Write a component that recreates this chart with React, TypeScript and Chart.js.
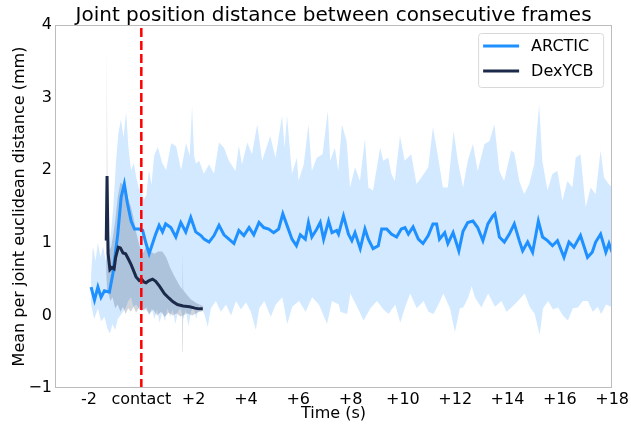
import React, { useEffect, useRef } from "react";
import { Chart, registerables } from "chart.js";

Chart.register(...registerables);

const chartTitle = "Joint position distance between consecutive frames";
const xAxisTitle = "Time (s)";
const yAxisTitle = "Mean per joint euclidean distance (mm)";

const xTickValues = [-2, 0, 2, 4, 6, 8, 10, 12, 14, 16, 18];
const xTickLabels = ["-2", "contact", "+2", "+4", "+6", "+8", "+10", "+12", "+14", "+16", "+18"];
const xMin = -3.3;
const xMax = 18;
const yMin = -1;
const yMax = 4;
const contactTime = 0;

const seriesNames = ["ARCTIC", "DexYCB"];

// ARCTIC mean
const arcticTime = [
  -1.92, -1.79, -1.66, -1.54, -1.41, -1.22, -1.09, -0.9, -0.77, -0.65,
  -0.53, -0.39, -0.26, -0.08, 0.05, 0.18, 0.3, 0.43, 0.55, 0.68,
  0.81, 0.93, 1.13, 1.32, 1.51, 1.7, 1.89, 2.08, 2.28, 2.4,
  2.59, 2.78, 2.97, 3.16, 3.35, 3.54, 3.73, 3.92, 4.12, 4.3,
  4.5, 4.68, 4.87, 5.06, 5.25, 5.41, 5.57, 5.76, 5.93, 6.08,
  6.27, 6.39, 6.52, 6.71, 6.84, 6.97, 7.16, 7.29, 7.47, 7.54,
  7.73, 7.92, 8.05, 8.17, 8.37, 8.55, 8.68, 8.86, 9.06, 9.19,
  9.38, 9.56, 9.76, 9.94, 10.08, 10.21, 10.39, 10.59, 10.77, 10.97,
  11.15, 11.29, 11.4, 11.6, 11.72, 11.92, 12.14, 12.3, 12.48, 12.68,
  12.86, 13.06, 13.25, 13.44, 13.52, 13.69, 13.88, 14.07, 14.26, 14.45,
  14.58, 14.77, 14.96, 15.18, 15.34, 15.53, 15.72, 15.91, 16.16, 16.35,
  16.54, 16.79, 17.06, 17.24, 17.37, 17.56, 17.76, 17.88, 18.0,
];
const arcticMean = [
  0.39, 0.21, 0.39, 0.25, 0.34, 0.32, 0.57, 1.12, 1.63, 1.81,
  1.54, 1.3, 1.19, 1.19, 1.17, 0.99, 0.85, 0.99, 1.12, 1.24,
  1.15, 1.26, 1.21, 1.08, 1.28, 1.15, 1.35, 1.15, 1.1, 1.05,
  1.01, 1.1, 1.24, 1.11, 1.05, 0.99, 1.17, 1.1, 1.21, 1.11,
  1.28, 1.21, 1.19, 1.14, 1.19, 1.4, 1.24, 1.05, 0.96, 1.11,
  1.05, 1.28, 1.08, 1.19, 1.28, 1.05, 1.3, 1.14, 1.17, 1.12,
  1.37, 1.12, 1.03, 1.14, 0.92, 1.19, 1.05, 0.92, 0.96, 1.19,
  1.19, 1.12, 1.08, 1.19, 1.21, 1.12, 1.22, 1.05, 0.99, 1.1,
  1.26, 1.26, 1.05, 1.14, 0.99, 1.14, 0.89, 1.16, 1.28, 1.3,
  1.21, 1.03, 1.26, 1.37, 1.4, 1.08, 1.01, 1.12, 1.26, 1.03,
  0.89, 1.01, 0.87, 1.3, 1.08, 1.03, 0.96, 1.03, 0.8, 1.01,
  0.94, 1.1, 0.8, 0.87, 1.01, 1.12, 0.87, 0.99, 0.87,
];

// ARCTIC band upper edge
const arcticUpperTime = [
  -1.92, -1.85, -1.75, -1.66, -1.56, -1.46, -1.36, -1.27, -1.17, -1.07,
  -0.97, -0.88, -0.78, -0.68, -0.58, -0.49, -0.39, -0.29, -0.19, -0.1,
  0.0, 0.1, 0.19, 0.29, 0.39, 0.49, 0.63, 0.8, 0.95, 1.14,
  1.33, 1.52, 1.71, 1.85, 1.94, 2.02, 2.09, 2.21, 2.39, 2.59,
  2.78, 2.97, 3.16, 3.35, 3.6, 3.73, 3.85, 4.05, 4.23, 4.43,
  4.62, 4.93, 5.13, 5.38, 5.48, 5.57, 5.76, 5.95, 6.01, 6.21,
  6.39, 6.52, 6.71, 6.93, 7.13, 7.22, 7.4, 7.53, 7.67, 7.85,
  7.98, 8.17, 8.36, 8.55, 8.68, 8.86, 9.13, 9.25, 9.44, 9.56,
  9.69, 9.89, 10.07, 10.32, 10.52, 10.71, 10.97, 11.15, 11.35, 11.53,
  11.72, 11.94, 12.1, 12.3, 12.48, 12.68, 12.86, 13.12, 13.31, 13.5,
  13.69, 13.87, 14.14, 14.26, 14.45, 14.64, 14.83, 15.02, 15.21, 15.33,
  15.53, 15.72, 15.91, 16.1, 16.29, 16.48, 16.61, 16.79, 16.99, 17.18,
  17.37, 17.56, 17.69, 17.87, 18.0,
];
const arcticUpper = [
  0.55, 0.95, 0.75, 1.0, 0.8, 0.95, 0.75, 0.9, 1.1, 1.5,
  2.1, 2.5, 2.7, 2.45, 2.8, 2.3, 2.0, 2.1, 1.9, 1.75,
  1.7, 1.6, 1.65, 2.0, 1.8, 2.2, 2.32, 2.1, 2.0, 2.37,
  2.33, 2.0, 2.37, 2.2, 2.87, 2.2, 2.09, 2.13, 1.95, 2.08,
  1.95, 2.38, 2.31, 2.13, 1.99, 2.34, 2.08, 2.38, 2.22, 2.63,
  2.13, 2.47, 2.17, 2.75, 2.31, 2.75, 1.95, 2.17, 1.85, 2.08,
  2.63, 1.99, 2.17, 2.22, 2.82, 2.13, 2.31, 1.99, 2.63, 2.4,
  1.76, 2.04, 1.85, 2.43, 1.76, 1.72, 2.31, 2.13, 2.17, 1.95,
  1.85, 2.47, 2.13, 2.22, 1.81, 1.9, 2.04, 2.59, 2.17, 1.76,
  1.76, 2.54, 2.13, 1.76, 2.13, 2.36, 1.99, 2.36, 2.4, 2.63,
  1.99, 1.85, 2.27, 2.24, 1.85, 1.67, 1.81, 2.08, 2.91, 2.13,
  1.72, 1.95, 1.99, 1.58, 1.85, 1.76, 2.17, 2.22, 1.49, 1.76,
  1.67, 2.27, 1.9, 1.81, 1.76,
];

// ARCTIC band lower edge
const arcticLowerTime = [
  -1.92, -1.8, -1.66, -1.54, -1.41, -1.3, -1.2, -1.1, -1.0, -0.9,
  -0.8, -0.7, -0.6, -0.5, -0.4, -0.3, -0.2, -0.1, 0.0, 0.1,
  0.2, 0.3, 0.4, 0.5, 0.6, 0.7, 0.8, 0.9, 1.0, 1.1,
  1.2, 1.3, 1.4, 1.5, 1.6, 1.7, 1.8, 1.9, 2.0, 2.1,
  2.22, 2.41, 2.54, 2.66, 2.85, 3.04, 3.24, 3.43, 3.62, 3.81,
  4.0, 4.19, 4.38, 4.51, 4.7, 4.95, 5.14, 5.39, 5.58, 5.77,
  6.03, 6.28, 6.53, 6.79, 7.1, 7.29, 7.55, 7.61, 7.87, 7.99,
  8.25, 8.5, 8.76, 9.01, 9.26, 9.45, 9.71, 9.9, 10.09, 10.28,
  10.53, 10.79, 10.98, 11.17, 11.36, 11.55, 11.8, 11.99, 12.18, 12.31,
  12.5, 12.63, 12.75, 13.0, 13.26, 13.52, 13.77, 13.96, 14.15, 14.4,
  14.66, 14.85, 15.04, 15.23, 15.36, 15.55, 15.74, 15.93, 16.12, 16.31,
  16.5, 16.69, 16.88, 17.07, 17.26, 17.45, 17.58, 17.77, 18.0,
];
const arcticLower = [
  0.15, -0.05, 0.1, -0.08, -0.02, -0.18, -0.25, -0.12, -0.2, -0.05,
  0.0, 0.05, 0.1, 0.2, 0.25, 0.12, 0.15, 0.1, 0.15, 0.05,
  0.12, 0.0, 0.1, -0.05, 0.08, -0.1, 0.05, -0.08, 0.1, -0.02,
  0.08, -0.12, 0.05, 0.1, -0.05, 0.08, -0.15, 0.05, 0.12, -0.05,
  0.15, 0.02, -0.16, 0.1, 0.2, 0.05, 0.15, 0.0, 0.2, 0.08,
  0.18, 0.05, -0.2, 0.1, 0.2, -0.02, 0.15, 0.25, -0.12, 0.12,
  0.2, 0.05, 0.25, 0.15, -0.12, 0.2, 0.15, 0.05, 0.02, 0.3,
  0.12, -0.07, 0.1, 0.2, 0.08, 0.02, 0.15, -0.1, 0.12, 0.3,
  0.1, 0.2, 0.05, 0.02, 0.15, 0.3, 0.1, -0.23, 0.1, 0.11,
  0.25, 0.4, 0.25, 0.11, 0.3, 0.12, 0.2, 0.05, 0.11, 0.2,
  0.3, 0.12, 0.02, -0.27, 0.1, 0.2, 0.08, 0.11, 0.0, -0.07,
  0.1, 0.11, 0.2, 0.2, 0.05, 0.12, 0.02, 0.15, 0.11,
];

// DexYCB mean
const dexTime = [
  -1.34, -1.31, -1.27, -1.2, -1.12, -1.04, -0.98, -0.88, -0.8, -0.7,
  -0.6, -0.5, -0.39, -0.3, -0.2, -0.08, 0.01, 0.1, 0.18, 0.3,
  0.43, 0.55, 0.7, 0.88, 1.05, 1.2, 1.38, 1.6, 1.85, 2.05,
  2.2, 2.35,
];
const dexMean = [
  1.03, 1.92, 0.85, 0.63, 0.66, 0.64, 0.8, 0.94, 0.93, 0.86,
  0.85, 0.78, 0.7, 0.62, 0.53, 0.48, 0.5, 0.46, 0.45, 0.48,
  0.5, 0.47, 0.4, 0.3, 0.24, 0.19, 0.15, 0.13, 0.12, 0.1,
  0.09, 0.09,
];

// DexYCB band
const dexUpperTime = [
  -1.34, -1.33, -1.315, -1.30, -1.29, -1.22, -1.15, -1.08, -1.0, -0.9,
  -0.8, -0.7, -0.6, -0.5, -0.4, -0.3, -0.2, -0.08, 0.05, 0.2,
  0.35, 0.5, 0.65, 0.8, 0.95, 1.1, 1.25, 1.45, 1.56, 1.58,
  1.6, 1.75, 1.9, 2.1, 2.35,
];
const dexUpper = [
  1.05, 2.2, 3.65, 2.2, 1.0, 0.9, 0.95, 1.1, 1.3, 1.63,
  1.83, 1.8, 1.76, 1.6, 1.5, 1.35, 1.15, 0.97, 0.85, 0.95,
  0.88, 0.85, 0.88, 0.88, 0.8, 0.66, 0.55, 0.42, 0.36, 0.9,
  0.35, 0.28, 0.22, 0.17, 0.13,
];
const dexLowerTime = [
  -1.34, -1.31, -1.26, -1.18, -1.1, -1.0, -0.9, -0.8, -0.7, -0.6,
  -0.5, -0.4, -0.3, -0.2, -0.1, 0.0, 0.15, 0.3, 0.45, 0.6,
  0.75, 0.9, 1.05, 1.2, 1.35, 1.5, 1.56, 1.58, 1.6, 1.75,
  1.95, 2.15, 2.35,
];
const dexLower = [
  0.6, 0.35, 0.3, 0.2, 0.25, 0.1, 0.15, 0.05, 0.12, 0.02,
  0.1, 0.05, 0.12, 0.04, 0.1, 0.06, 0.1, 0.02, 0.08, 0.0,
  0.05, -0.02, 0.04, 0.0, 0.03, -0.02, 0.0, -0.5, 0.0, 0.03,
  0.0, 0.04, 0.06,
];

const arcticColor = "#1e90ff";
const arcticFill = "rgba(30,144,255,0.2)";
const dexColor = "#1b2a4a";
const dexFill = "rgba(27,42,74,0.2)";
const contactColor = "#ff0000";
const fontFamily = "'DejaVu Sans', sans-serif";

function pts(t: number[], v: number[]) {
  return t.map((x, i) => ({ x, y: v[i] }));
}
function bandPts(tu: number[], u: number[], tl: number[], l: number[]) {
  return [...pts(tu, u), ...pts(tl, l).reverse()];
}

const framePlugin = {
  id: "frame",
  afterDatasetsDraw(chart: any) {
    const { ctx, chartArea } = chart;
    ctx.save();
    ctx.strokeStyle = "#bcbcbc";
    ctx.lineWidth = 1;
    ctx.strokeRect(
      Math.round(chartArea.left) + 0.5,
      Math.round(chartArea.top) + 0.5,
      Math.round(chartArea.right - chartArea.left) - 1,
      Math.round(chartArea.bottom - chartArea.top) - 1
    );
    ctx.restore();
  },
};

const titlePlugin = {
  id: "axesTitle",
  afterDraw(chart: any) {
    const { ctx, chartArea } = chart;
    ctx.save();
    ctx.font = `20px ${fontFamily}`;
    ctx.fillStyle = "#000";
    ctx.textAlign = "center";
    ctx.textBaseline = "alphabetic";
    ctx.fillText(chartTitle, (chartArea.left + chartArea.right) / 2, 21);
    ctx.restore();
  },
};

const legendPlugin = {
  id: "boxLegend",
  afterDraw(chart: any) {
    const { ctx, chartArea } = chart;
    const items = seriesNames
      .map((n) => chart.data.datasets.find((d: any) => d.inLegend && d.label === n))
      .filter(Boolean);
    const boxW = 125;
    const rowH = 25;
    const boxH = 13 + rowH * (items.length - 1) + 16;
    const x0 = chartArea.right - 9 - boxW;
    const y0 = chartArea.top + 8;
    ctx.save();
    ctx.beginPath();
    ctx.roundRect(x0 + 0.5, y0 + 0.5, boxW, boxH, 3);
    ctx.fillStyle = "rgba(255,255,255,0.8)";
    ctx.fill();
    ctx.strokeStyle = "#d9d9d9";
    ctx.lineWidth = 1;
    ctx.stroke();
    ctx.font = `16px ${fontFamily}`;
    ctx.textBaseline = "middle";
    ctx.textAlign = "left";
    items.forEach((d: any, i: number) => {
      const cy = y0 + 13 + i * rowH;
      ctx.beginPath();
      ctx.moveTo(x0 + 5, cy);
      ctx.lineTo(x0 + 41, cy);
      ctx.strokeStyle = d.borderColor;
      ctx.lineWidth = 3;
      ctx.stroke();
      ctx.fillStyle = "#000";
      ctx.fillText(d.label, x0 + 53, cy + 1);
    });
    ctx.restore();
  },
};

export default function App() {
  const ref = useRef<HTMLCanvasElement>(null);
  useEffect(() => {
    if (!ref.current) return;
    const chart = new Chart(ref.current, {
      type: "line",
      data: {
        datasets: [
          {
            label: "contact",
            data: [
              { x: contactTime, y: yMin },
              { x: contactTime, y: yMax },
            ],
            borderColor: contactColor,
            borderWidth: 2.5,
            borderDash: [9, 4],
            pointRadius: 0,
            fill: false,
            order: 0,
          } as any,
          {
            label: seriesNames[1],
            data: pts(dexTime, dexMean),
            borderColor: dexColor,
            borderWidth: 3,
            pointRadius: 0,
            fill: false,
            inLegend: true,
            order: 1,
          } as any,
          {
            label: seriesNames[0],
            data: pts(arcticTime, arcticMean),
            borderColor: arcticColor,
            borderWidth: 3,
            pointRadius: 0,
            fill: false,
            inLegend: true,
            order: 2,
          } as any,
          {
            label: seriesNames[1] + " band",
            data: bandPts(dexUpperTime, dexUpper, dexLowerTime, dexLower),
            borderWidth: 0,
            borderColor: "rgba(0,0,0,0)",
            backgroundColor: dexFill,
            pointRadius: 0,
            fill: "shape",
            order: 3,
          } as any,
          {
            label: seriesNames[0] + " band",
            data: bandPts(arcticUpperTime, arcticUpper, arcticLowerTime, arcticLower),
            borderWidth: 0,
            borderColor: "rgba(0,0,0,0)",
            backgroundColor: arcticFill,
            pointRadius: 0,
            fill: "shape",
            order: 4,
          } as any,
        ],
      },
      options: {
        animation: false,
        responsive: true,
        maintainAspectRatio: false,
        layout: { padding: { left: 0, right: 16, top: 25, bottom: 0 } },
        plugins: {
          legend: { display: false },
          tooltip: { enabled: false },
          title: { display: false },
        },
        scales: {
          x: {
            type: "linear",
            min: xMin,
            max: xMax,
            grid: { display: false, drawTicks: false },
            border: { display: false },
            afterBuildTicks: (scale: any) => {
              scale.ticks = xTickValues.map((value) => ({ value }));
            },
            afterFit: (scale: any) => {
              scale.height = 37;
            },
            ticks: {
              autoSkip: false,
              maxRotation: 0,
              padding: 2,
              color: "#000",
              font: { family: fontFamily, size: 16 },
              callback: (v: any) => {
                const i = xTickValues.indexOf(Number(v));
                return i >= 0 ? xTickLabels[i] : "";
              },
            },
            title: {
              display: true,
              text: xAxisTitle,
              color: "#000",
              font: { family: fontFamily, size: 16 },
              padding: { top: 0, bottom: 2 },
            },
          },
          y: {
            type: "linear",
            min: yMin,
            max: yMax,
            grid: { display: false, drawTicks: false },
            border: { display: false },
            afterFit: (scale: any) => {
              scale.width = 55;
            },
            ticks: {
              stepSize: 1,
              padding: 3,
              color: "#000",
              font: { family: fontFamily, size: 16 },
              callback: (v: any) => (Number(v) < 0 ? "\u2212" + Math.abs(Number(v)) : String(v)),
            },
            title: {
              display: true,
              text: yAxisTitle,
              color: "#000",
              font: { family: fontFamily, size: 16 },
              padding: { top: 10, bottom: 0 },
            },
          },
        },
      },
      plugins: [framePlugin, titlePlugin, legendPlugin],
    } as any);
    return () => chart.destroy();
  }, []);
  return (
    <div style={{ position: "fixed", left: 0, top: 0, width: 631, height: 425 }}>
      <canvas ref={ref} />
    </div>
  );
}
